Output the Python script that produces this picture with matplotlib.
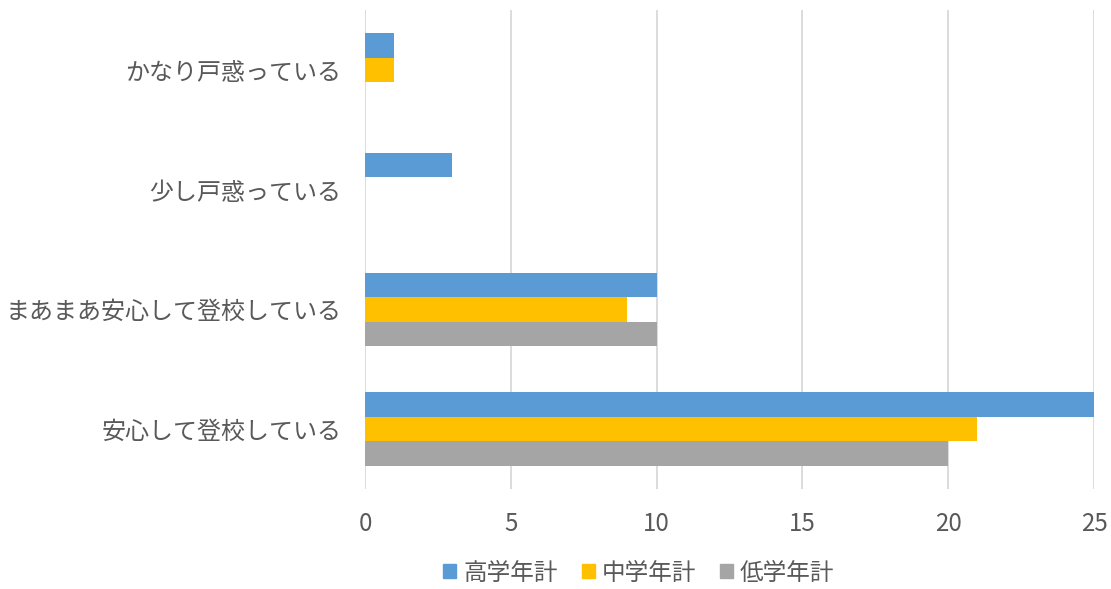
import matplotlib as mpl
mpl.use('Agg')
import matplotlib.pyplot as plt
from matplotlib.patches import Patch
import numpy as np

plt.rcParams['font.family'] = ['Noto Sans CJK JP', 'DejaVu Sans']

categories = ["安心して登校している", "まあまあ安心して登校している", "少し戸惑っている", "かなり戸惑っている"]
series_names = ["高学年計", "中学年計", "低学年計"]
high = [25, 10, 3, 1]
mid = [21, 9, 0, 1]
low = [20, 10, 0, 0]
colors = ['#5B9BD5', '#FFC000', '#A5A5A5']
xticks = [0, 5, 10, 15, 20, 25]

fig = plt.figure(figsize=(11.11, 5.89), dpi=100)
ax = fig.add_axes([0.3285, 0.1698, 0.6562, 0.8132])

y = np.arange(len(categories))
h = 0.205
for i, (vals, c) in enumerate(zip([high, mid, low], colors)):
    ax.barh(y + (1 - i) * h, vals, height=h, color=c, zorder=3)

ax.set_xlim(0, 25)
ax.set_ylim(-0.5, 3.5)
ax.set_xticks(xticks)
ax.set_yticks(y)
ax.set_yticklabels(categories)
ax.grid(axis='x', color='#D9D9D9', linewidth=1.3, zorder=0)
for s in ax.spines.values():
    s.set_visible(False)
ax.tick_params(length=0, labelsize=17.3, labelcolor='#595959')
ax.tick_params(axis='x', pad=16)
ax.tick_params(axis='y', pad=17)

handles = [Patch(color=c) for c in colors]
fig.legend(handles, series_names, loc='center', bbox_to_anchor=(0.575, 0.027),
           ncol=3, frameon=False, fontsize=17, labelcolor='#595959',
           handlelength=0.55, handleheight=0.55, handletextpad=0.3, columnspacing=1.0)

plt.savefig('out.png', dpi=100)
plt.close()
